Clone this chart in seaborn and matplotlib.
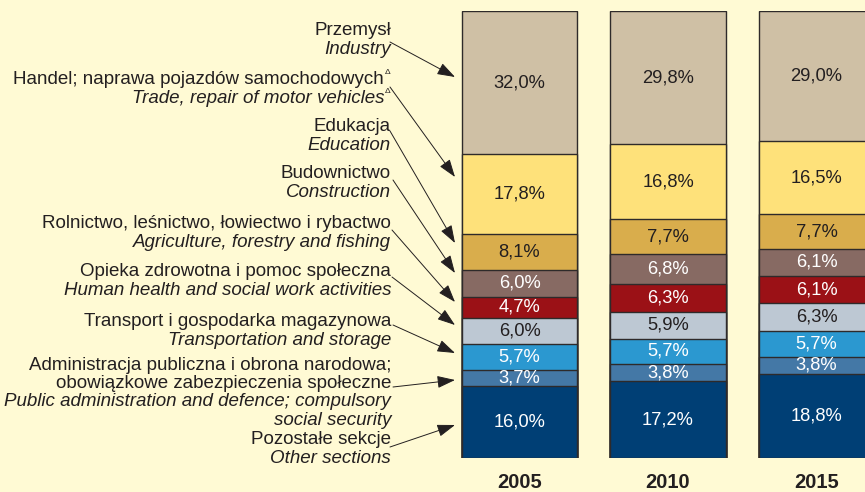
import matplotlib
matplotlib.use("Agg")
import matplotlib.pyplot as plt
import numpy as np
import pandas as pd
import seaborn as sns

# Data (bottom -> top of each bar)
years = ["2005", "2010", "2015"]
other = [16.0, 17.2, 18.8]
public_admin = [3.7, 3.8, 3.8]
transport = [5.7, 5.7, 5.7]
health = [6.0, 5.9, 6.3]
agriculture = [4.7, 6.3, 6.1]
construction = [6.0, 6.8, 6.1]
education = [8.1, 7.7, 7.7]
trade = [17.8, 16.8, 16.5]
industry = [32.0, 29.8, 29.0]

labels_pl = [
    "Pozostałe sekcje",
    "Administracja publiczna i obrona narodowa;\nobowiązkowe zabezpieczenia społeczne",
    "Transport i gospodarka magazynowa",
    "Opieka zdrowotna i pomoc społeczna",
    "Rolnictwo, leśnictwo, łowiectwo i rybactwo",
    "Budownictwo",
    "Edukacja",
    "Handel; naprawa pojazdów samochodowych",
    "Przemysł",
]
labels_en = [
    "Other sections",
    "Public administration and defence; compulsory\nsocial security",
    "Transportation and storage",
    "Human health and social work activities",
    "Agriculture, forestry and fishing",
    "Construction",
    "Education",
    "Trade, repair of motor vehicles",
    "Industry",
]

colors = ["#003f75", "#4478a6", "#2b98d0", "#bdc8d3", "#9b1116",
          "#876a63", "#d9ad4c", "#fee17a", "#cfc0a5"]
light_text = [True, True, True, False, True, True, False, False, False]

values = np.array([other, public_admin, transport, health, agriculture,
                   construction, education, trade, industry])
stack = np.cumsum(values, axis=0)

W, H = 865, 492
bg = "#fffad4"
ink = "#231f20"
plt.rcParams["font.family"] = ["Liberation Sans", "DejaVu Sans"]

fig = plt.figure(figsize=(W / 100, H / 100), dpi=100, facecolor=bg)
ax = fig.add_axes([440 / W, (H - 458) / H, 425 / W, 447 / H])
ax.set_facecolor(bg)

# stacked bars: draw tallest cumulative first, then overlay lower ones
for k in range(len(values) - 1, -1, -1):
    sns.barplot(x=years, y=stack[k], color=colors[k], width=0.775,
                saturation=1, edgecolor="#2e2a2a", linewidth=1.0,
                errorbar=None, ax=ax)

for k in range(len(values)):
    for i in range(len(years)):
        v = values[k, i]
        ax.text(i, stack[k, i] - v / 2, f"{v:.1f}%".replace(".", ","),
                ha="center", va="center", fontsize=13.2,
                color="white" if light_text[k] else ink)

ax.set_xlim(-0.5354, 2.3266)
ax.set_ylim(0, 100)
for s in ax.spines.values():
    s.set_visible(False)
ax.set_yticks([])
ax.set_xlabel("")
ax.set_ylabel("")
ax.tick_params(axis="x", length=0, pad=11, labelsize=14.5, labelcolor=ink)
plt.setp(ax.get_xticklabels(), fontweight="bold")

# left-hand labels (y = first line centre in px from top), right edge at x=391
label_y = [440, 365, 322, 272, 223.5, 174, 126.5, 80, 30.7]
line_gap = 18.5
text_x = 391
for k in range(len(values)):
    lines = [(t, "normal") for t in labels_pl[k].split("\n")] + \
            [(t, "italic") for t in labels_en[k].split("\n")]
    for j, (t, style) in enumerate(lines):
        x = text_x
        y = label_y[k] + j * line_gap
        if k == 7:  # superscript triangle marker
            x = text_x - 7
            fig.text((text_x - 1) / W, 1 - (y - 7) / H, "Δ", ha="right",
                     va="center", fontsize=6, color=ink)
        fig.text(x / W, 1 - y / H, t, ha="right", va="center", fontsize=13.5,
                 style=style, color=ink)

# arrows: start (px from top) -> bar edge target
arrow_start = [(390, 447), (393, 387), (393, 325), (392, 277), (392, 230),
               (393, 180), (390, 131), (390, 87), (390, 42)]
arrow_end_y = [425, 380, 353, 325, 302, 273, 243, 177, 77]
for (sx, sy), ey in zip(arrow_start, arrow_end_y):
    ax.annotate("", xy=(455, H - ey), xycoords="figure pixels",
                xytext=(sx, H - sy), textcoords="figure pixels",
                arrowprops=dict(arrowstyle="-|>,head_length=1.1,head_width=0.38",
                                color=ink, lw=0.7, shrinkA=0, shrinkB=0,
                                mutation_scale=10),
                annotation_clip=False)

fig.savefig("out.png", dpi=100, facecolor=bg)
